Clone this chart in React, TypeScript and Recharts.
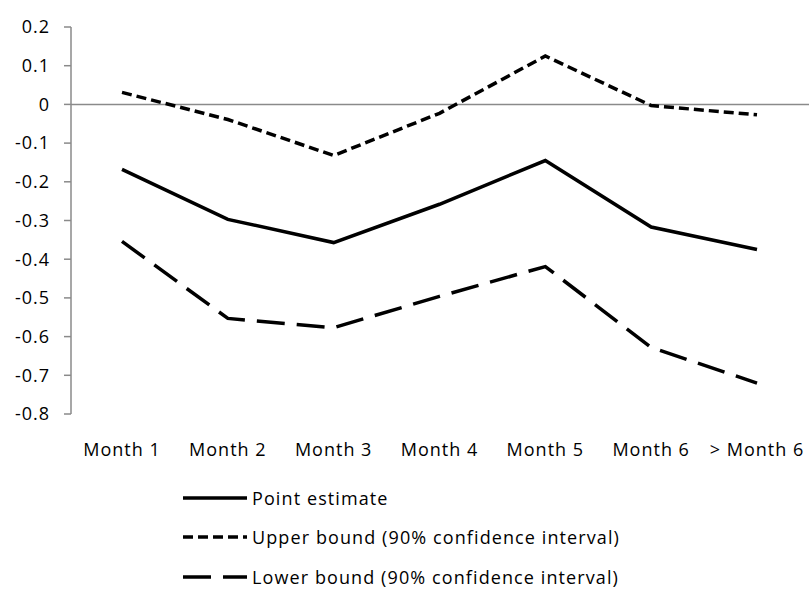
import { LineChart, Line, XAxis, YAxis, ReferenceLine } from "recharts";

const MONTHS = ["Month 1", "Month 2", "Month 3", "Month 4", "Month 5", "Month 6", "> Month 6"];

const pointEstimate = [-0.168, -0.297, -0.357, -0.258, -0.145, -0.317, -0.375];
const upperBound = [0.031, -0.039, -0.132, -0.023, 0.125, -0.003, -0.027];
const lowerBound = [-0.354, -0.553, -0.577, -0.496, -0.419, -0.628, -0.72];

const Y_TICKS = [0.2, 0.1, 0, -0.1, -0.2, -0.3, -0.4, -0.5, -0.6, -0.7, -0.8];
const Y_LABELS = ["0.2", "0.1", "0", "-0.1", "-0.2", "-0.3", "-0.4", "-0.5", "-0.6", "-0.7", "-0.8"];

const data = MONTHS.map((m, i) => ({
  month: m,
  point: pointEstimate[i],
  upper: upperBound[i],
  lower: lowerBound[i],
}));

const FONT = "'Open Sans', 'Noto Sans', sans-serif";
const GREY = "#8a8a8a";

const SERIES = [
  { key: "point", name: "Point estimate", dash: undefined as string | undefined, width: 3.5 },
  { key: "upper", name: "Upper bound (90% confidence interval)", dash: "10 5", width: 3.5 },
  { key: "lower", name: "Lower bound (90% confidence interval)", dash: "28 12", width: 3.5 },
];

const fmtY = (v: number) => {
  const i = Y_TICKS.findIndex((t) => Math.abs(t - v) < 1e-9);
  return i >= 0 ? Y_LABELS[i] : String(v);
};

const tickStyle = { fill: "#000", fontSize: 18, fontFamily: FONT, letterSpacing: 1 };

function LegendBox() {
  return (
    <div
      style={{
        position: "absolute",
        left: 183,
        top: 478,
        fontFamily: FONT,
        fontSize: 18,
        letterSpacing: 1.1,
        color: "#000",
      }}
    >
      {SERIES.map((s) => (
        <div key={s.key} style={{ display: "flex", alignItems: "center", height: 39.5 }}>
          <svg width={66} height={10} style={{ marginRight: 3 }}>
            <line x1={0} y1={5} x2={64} y2={5} stroke="#000" strokeWidth={s.width} strokeDasharray={s.dash} />
          </svg>
          <span>{s.name}</span>
        </div>
      ))}
    </div>
  );
}

export default function App() {
  return (
    <div style={{ position: "absolute", left: 0, top: 0, width: 809, height: 593, background: "#fff" }}>
      <LineChart width={809} height={593} data={data} margin={{ top: 27, right: 0, bottom: 149, left: 0 }}>
        <XAxis
          dataKey="month"
          axisLine={false}
          tickLine={false}
          tickSize={0}
          tickMargin={29}
          height={30}
          padding={{ left: 51, right: 52 }}
          interval={0}
          tick={tickStyle}
        />
        <YAxis
          type="number"
          domain={[-0.8, 0.2]}
          ticks={Y_TICKS}
          interval={0}
          width={71}
          tickFormatter={fmtY}
          axisLine={{ stroke: GREY, strokeWidth: 1.5 }}
          tickLine={{ stroke: GREY, strokeWidth: 1.5 }}
          tickSize={7}
          tickMargin={14}
          tick={tickStyle}
        />
        <ReferenceLine y={0} stroke={GREY} strokeWidth={1.5} />
        {SERIES.map((s) => (
          <Line
            key={s.key}
            dataKey={s.key}
            name={s.name}
            type="linear"
            stroke="#000"
            strokeWidth={s.width}
            strokeDasharray={s.dash}
            dot={false}
            activeDot={false}
            isAnimationActive={false}
          />
        ))}
      </LineChart>
      <LegendBox />
    </div>
  );
}
